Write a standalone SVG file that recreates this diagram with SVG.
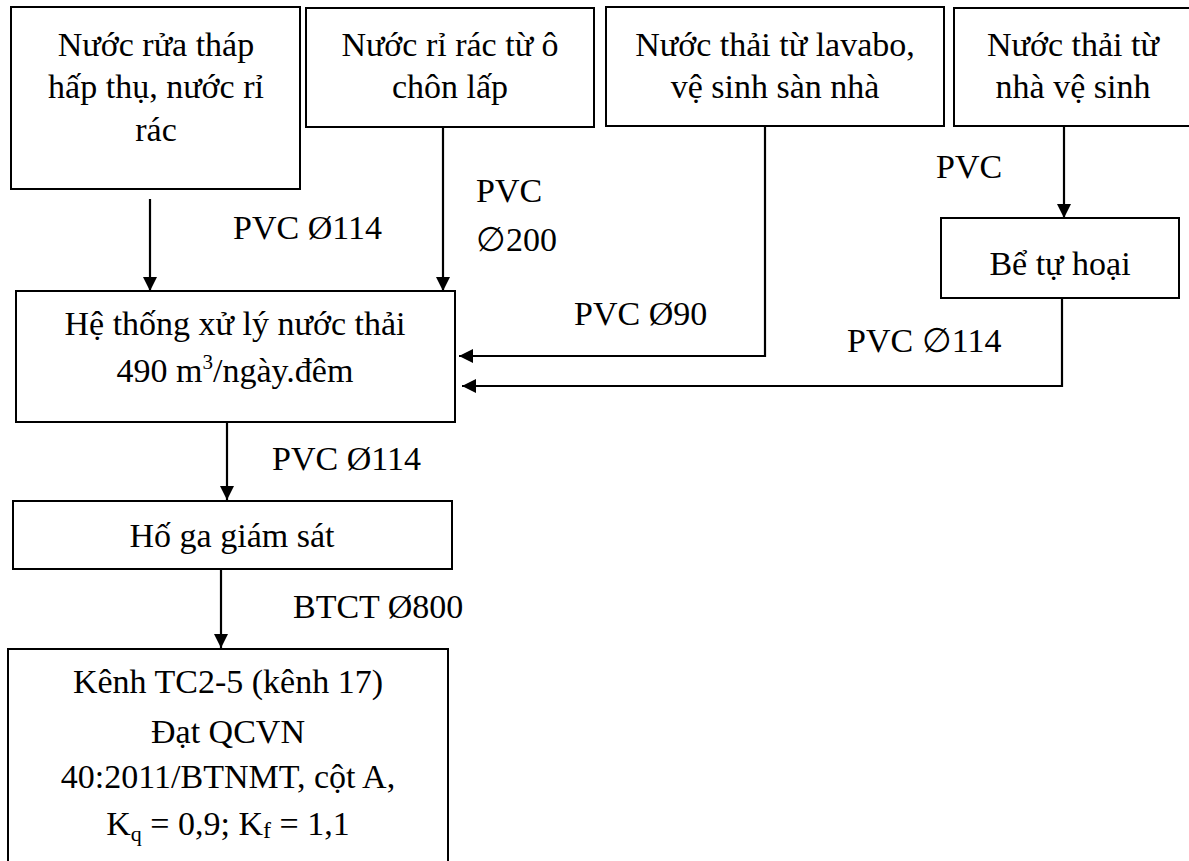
<svg xmlns="http://www.w3.org/2000/svg" width="1189" height="861" viewBox="0 0 1189 861">
<defs>
<style>
.box{fill:#fff;stroke:#000;stroke-width:2}
.t{font-size:34px;fill:#000}
.c{text-anchor:middle}
.ln{fill:none;stroke:#000;stroke-width:2.2}
</style>
<marker id="ah" markerWidth="14" markerHeight="14" viewBox="0 0 14 14" refX="14" refY="7" orient="auto" markerUnits="userSpaceOnUse">
<path d="M0,0 L14,7 L0,14 Z" fill="#000"/>
</marker>
</defs>
<rect width="1189" height="861" fill="#fff"/>
<g font-family="Liberation Serif, Tinos, DejaVu Serif, serif">
<g id="n1">
<rect class="box" x="11" y="7" width="289" height="182"/>
<text class="t c" x="156" y="56">Nước rửa tháp</text>
<text class="t c" x="156" y="98">hấp thụ, nước rỉ</text>
<text class="t c" x="156" y="141">rác</text>
</g>
<g id="n2">
<rect class="box" x="306" y="8" width="288" height="119"/>
<text class="t c" x="450" y="56">Nước rỉ rác từ ô</text>
<text class="t c" x="450" y="98">chôn lấp</text>
</g>
<g id="n3">
<rect class="box" x="606" y="7" width="338" height="119"/>
<text class="t c" x="775" y="56">Nước thải từ lavabo,</text>
<text class="t c" x="775" y="98">vệ sinh sàn nhà</text>
</g>
<g id="n4">
<rect class="box" x="954" y="8" width="236" height="118"/>
<text class="t c" x="1073" y="56">Nước thải từ</text>
<text class="t c" x="1073" y="98">nhà vệ sinh</text>
</g>
<g id="n5">
<rect class="box" x="941" y="218" width="238" height="80"/>
<text class="t c" x="1060" y="275">Bể tự hoại</text>
</g>
<g id="n6">
<rect class="box" x="16" y="291" width="439" height="131"/>
<text class="t c" x="235" y="335">Hệ thống xử lý nước thải</text>
<text class="t c" x="235" y="382">490 m<tspan font-size="21" dy="-13">3</tspan><tspan dy="13">/ngày.đêm</tspan></text>
</g>
<g id="n7">
<rect class="box" x="13" y="501" width="439" height="68"/>
<text class="t c" x="232" y="547">Hố ga giám sát</text>
</g>
<g id="n8">
<rect class="box" x="8" y="649" width="440" height="220"/>
<text class="t c" x="228" y="693">Kênh TC2-5 (kênh 17)</text>
<text class="t c" x="228" y="743">Đạt QCVN</text>
<text class="t c" x="228" y="788">40:2011/BTNMT, cột A,</text>
<text class="t c" x="228" y="835">K<tspan font-size="22" dy="6">q</tspan><tspan dy="-6"> = 0,9; K</tspan><tspan font-size="24" dy="3">f</tspan><tspan dy="-3"> = 1,1</tspan></text>
</g>

<g id="connectors">
<line class="ln" x1="150" y1="199" x2="150" y2="291" marker-end="url(#ah)"/>
<line class="ln" x1="443" y1="127" x2="443" y2="291" marker-end="url(#ah)"/>
<polyline class="ln" points="765,126 765,356 459,356" marker-end="url(#ah)"/>
<line class="ln" x1="1064" y1="126" x2="1064" y2="218" marker-end="url(#ah)"/>
<polyline class="ln" points="1062,298 1062,386 462,386" marker-end="url(#ah)"/>
<line class="ln" x1="227" y1="422" x2="227" y2="500" marker-end="url(#ah)"/>
<line class="ln" x1="221" y1="569" x2="221" y2="648" marker-end="url(#ah)"/>
</g>

<g id="labels">
<text class="t" x="233" y="239">PVC Ø114</text>
<text class="t" x="476" y="202">PVC</text>
<text class="t" x="476" y="251">∅200</text>
<text class="t" x="574" y="325">PVC Ø90</text>
<text class="t" x="847" y="352">PVC ∅114</text>
<text class="t" x="936" y="178">PVC</text>
<text class="t" x="272" y="470">PVC Ø114</text>
<text class="t" x="293" y="618">BTCT Ø800</text>
</g>
</g>
</svg>
